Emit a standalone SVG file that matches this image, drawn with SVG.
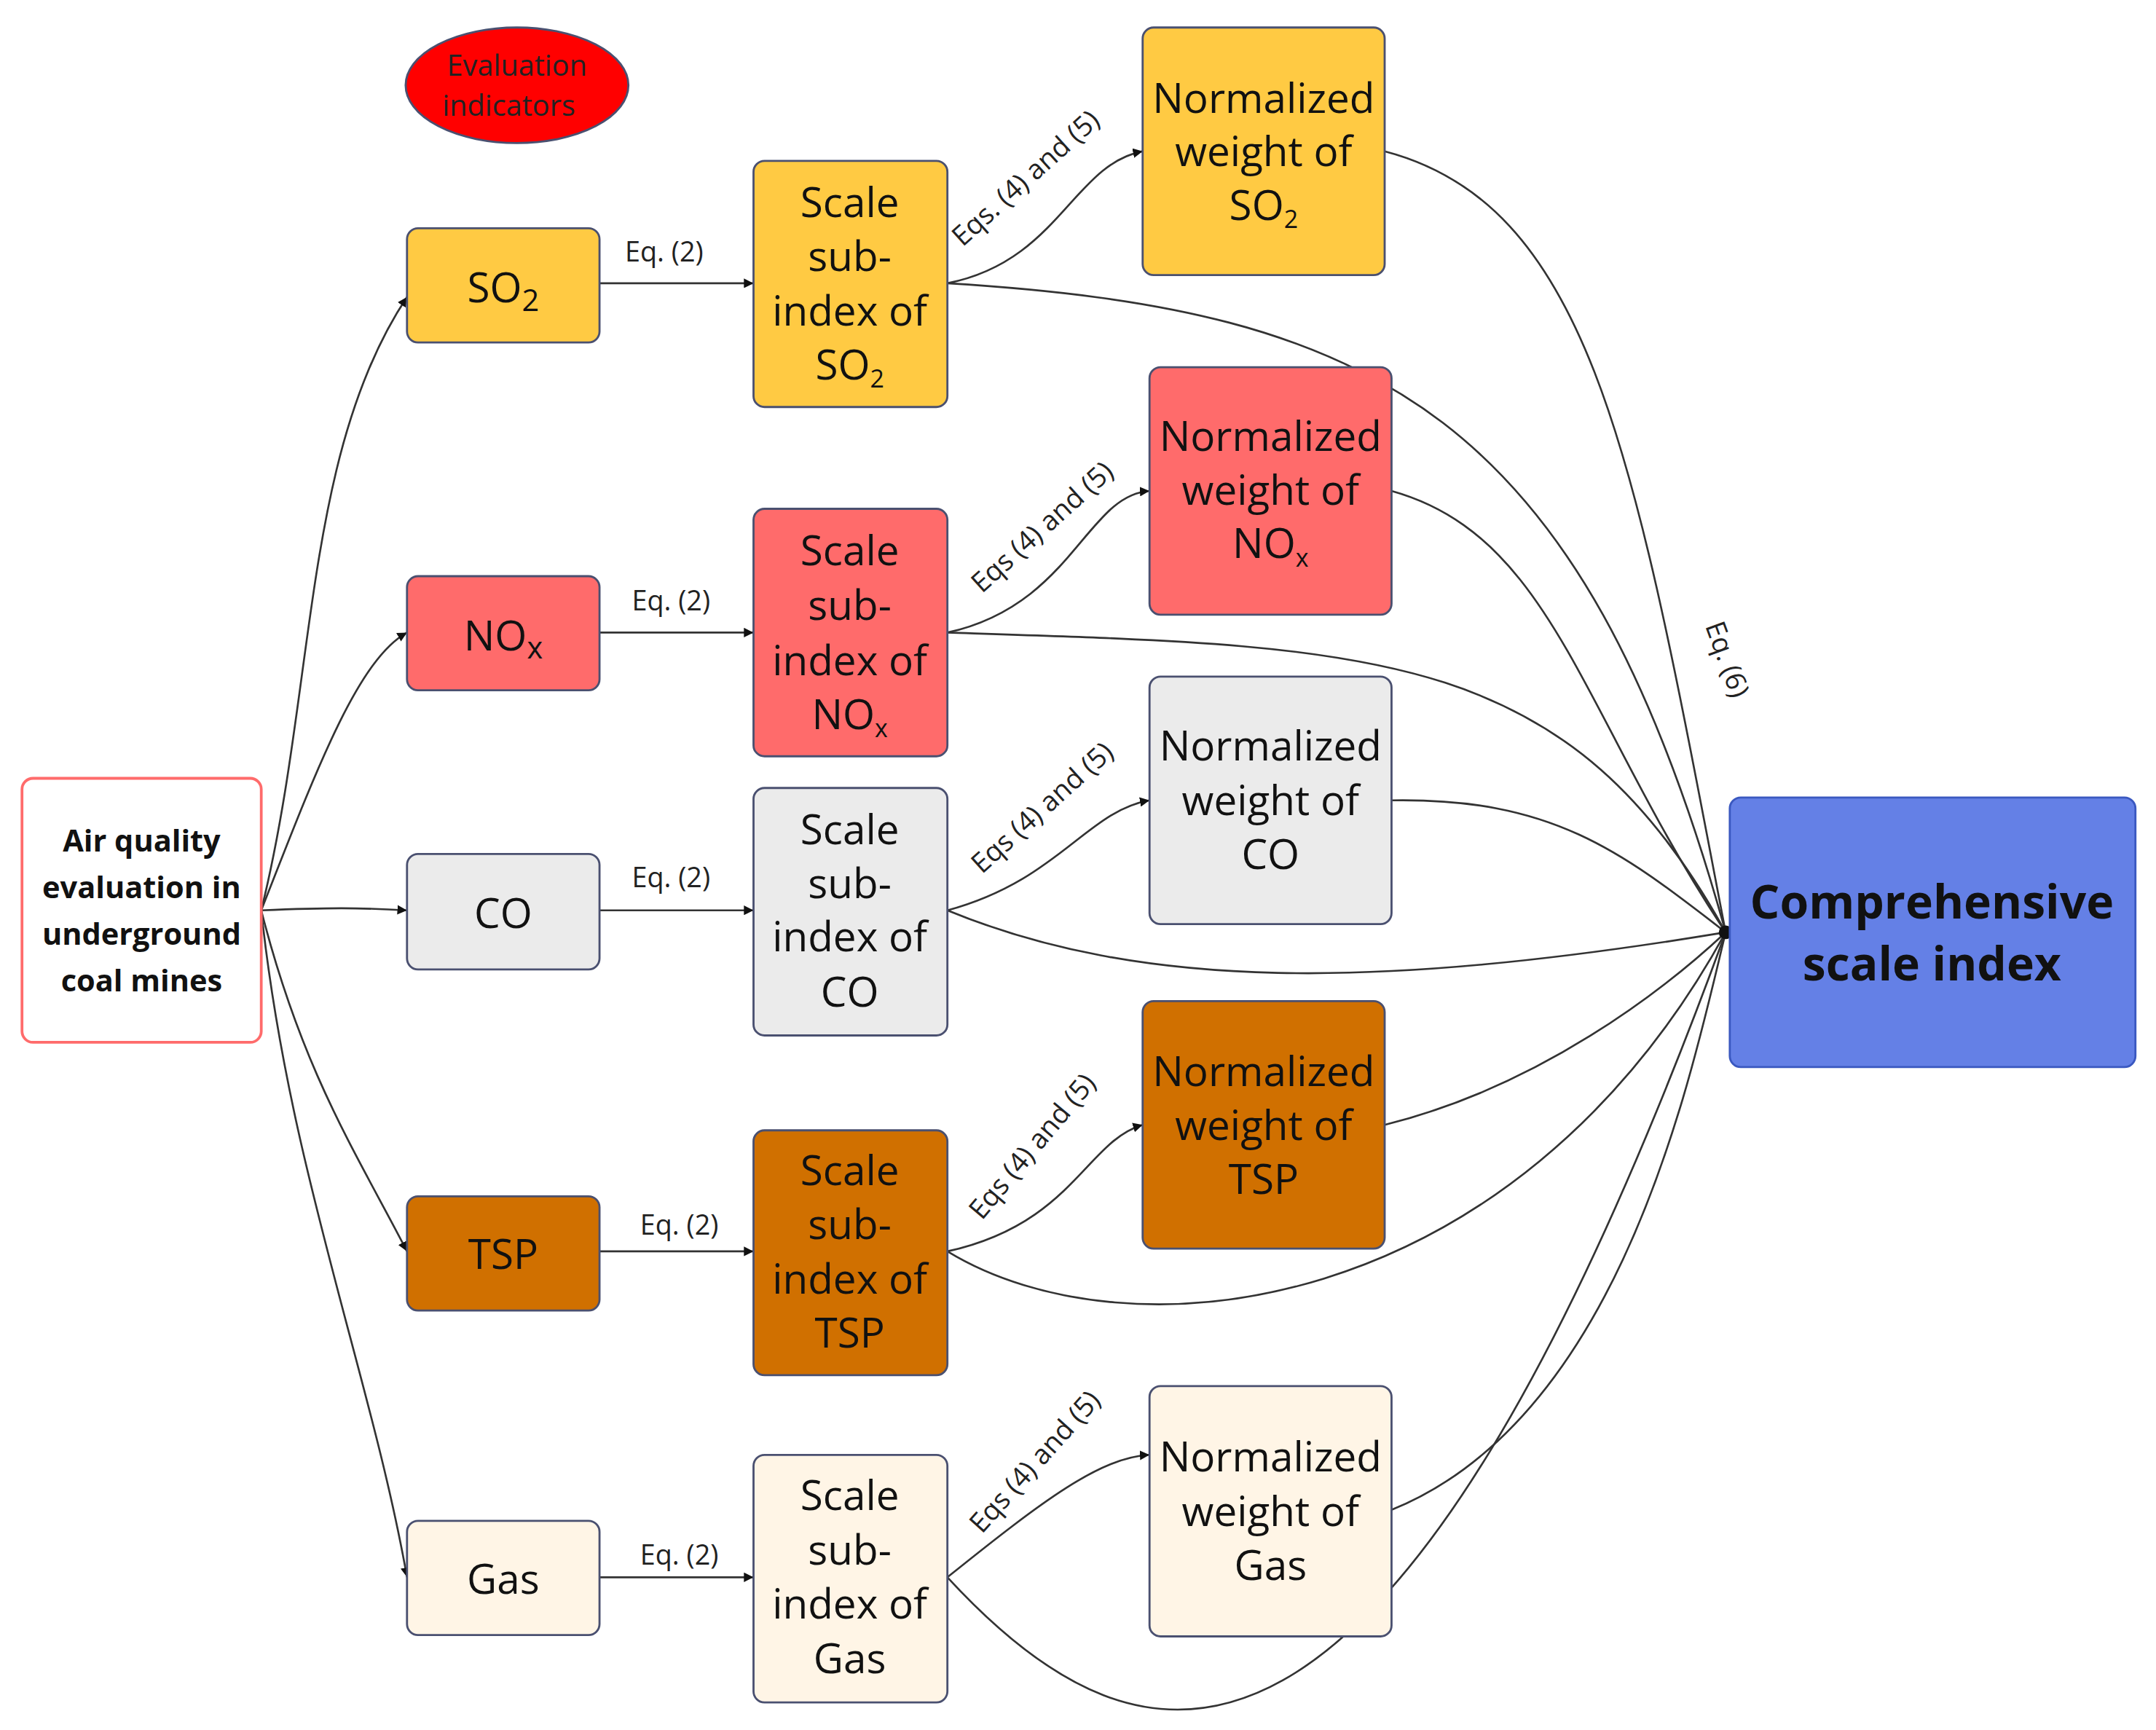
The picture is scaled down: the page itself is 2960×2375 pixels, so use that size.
<svg xmlns="http://www.w3.org/2000/svg" width="2960" height="2375" viewBox="0 0 2960 2375">
<style>
.b{stroke:#4a5070;stroke-width:1.5}
.t{font-family:"Open Sans","Liberation Sans",sans-serif;font-size:30px;fill:#111;text-anchor:middle}
.s{font-family:"Open Sans","Liberation Sans",sans-serif;font-size:20px;fill:#222}
.c{fill:none;stroke:#333;stroke-width:1.4}
</style>
<defs><marker id="a" viewBox="0 0 10 10" refX="10" refY="5" markerWidth="7" markerHeight="7" orient="auto" markerUnits="userSpaceOnUse"><path d="M0,0L10,5L0,10z" fill="#111"/></marker></defs>
<rect width="2960" height="2375" fill="#fff"/>
<g transform="scale(1.8878)">
<g id="connectors">
<path class="c" marker-end="url(#a)" d="M190,662 C230,500 220,330 296,216"/>
<path class="c" marker-end="url(#a)" d="M190,662 C230,560 260,480 296,460"/>
<path class="c" marker-end="url(#a)" d="M190,662 C240,660 260,660 296,662"/>
<path class="c" marker-end="url(#a)" d="M190,662 C220,780 260,840 296,910"/>
<path class="c" marker-end="url(#a)" d="M190,662 C210,850 270,1000 296,1147"/>
<path class="c" marker-end="url(#a)" d="M436,206H548"/>
<path class="c" marker-end="url(#a)" d="M436,460H548"/>
<path class="c" marker-end="url(#a)" d="M436,662H548"/>
<path class="c" marker-end="url(#a)" d="M436,910H548"/>
<path class="c" marker-end="url(#a)" d="M436,1147H548"/>
<path class="c" marker-end="url(#a)" d="M689,206 C770,190 780,120 831,110"/>
<path class="c" marker-end="url(#a)" d="M689,460 C780,440 790,360 836,357"/>
<path class="c" marker-end="url(#a)" d="M689,662 C770,640 790,590 836,582"/>
<path class="c" marker-end="url(#a)" d="M689,910 C780,890 790,830 831,818"/>
<path class="c" marker-end="url(#a)" d="M689,1147 C760,1090 800,1060 836,1058"/>
<path class="c" d="M1007,110 C1160,150 1190,340 1255,678"/>
<path class="c" d="M689,206 C1000,225 1150,300 1255,678"/>
<path class="c" d="M1012,357 C1130,390 1150,520 1255,678"/>
<path class="c" d="M689,460 C1000,470 1140,470 1255,678"/>
<path class="c" d="M1012,582 C1130,580 1180,620 1255,678"/>
<path class="c" d="M689,662 C830,720 1000,720 1255,678"/>
<path class="c" d="M1007,818 C1120,790 1210,720 1255,678"/>
<path class="c" d="M689,910 C820,990 1100,960 1255,678"/>
<path class="c" d="M1012,1098 C1180,1030 1230,780 1255,678"/>
<path class="c" d="M689,1147 C830,1300 1010,1350 1255,678"/>
<circle cx="1255" cy="678" r="5" fill="#111"/>
<text class="s" x="483" y="190" text-anchor="middle">Eq. (2)</text>
<text class="s" x="488" y="444" text-anchor="middle">Eq. (2)</text>
<text class="s" x="488" y="645" text-anchor="middle">Eq. (2)</text>
<text class="s" x="494" y="898" text-anchor="middle">Eq. (2)</text>
<text class="s" x="494" y="1138" text-anchor="middle">Eq. (2)</text>
<text class="s" transform="translate(700,180) rotate(-42)">Eqs. (4) and (5)</text>
<text class="s" transform="translate(714,432) rotate(-42)">Eqs (4) and (5)</text>
<text class="s" transform="translate(714,636) rotate(-42)">Eqs (4) and (5)</text>
<text class="s" transform="translate(714,888) rotate(-50)">Eqs (4) and (5)</text>
<text class="s" transform="translate(714,1116) rotate(-48)">Eqs (4) and (5)</text>
<text class="s" transform="translate(1240,455) rotate(70)">Eq. (6)</text>
</g>
<g id="eval"><ellipse cx="376" cy="62" rx="81" ry="42" fill="#ff0000" stroke="#4a5070" stroke-width="1.5"/>
<text class="s" x="376" y="55" text-anchor="middle" style="font-size:21px">Evaluation</text><text class="s" x="370" y="84" text-anchor="middle" style="font-size:21px">indicators</text></g>
<g id="air"><rect x="16" y="566" width="174" height="192" rx="8" fill="#fff" stroke="#ff6b6b" stroke-width="2"/>
<text class="t" style="font-size:22px;font-weight:bold" x="103" y="619">Air quality</text><text class="t" style="font-size:22px;font-weight:bold" x="103" y="653">evaluation in</text><text class="t" style="font-size:22px;font-weight:bold" x="103" y="687">underground</text><text class="t" style="font-size:22px;font-weight:bold" x="103" y="721">coal mines</text></g>
<g id="so2"><rect class="b" x="296" y="166" width="140" height="83" rx="8" fill="#ffca43"/><text class="t" x="366" y="220">SO<tspan font-size="22" dy="6">2</tspan></text></g>
<g id="nox"><rect class="b" x="296" y="419" width="140" height="83" rx="8" fill="#ff6b6b"/><text class="t" x="366" y="473">NO<tspan font-size="22" dy="6">x</tspan></text></g>
<g id="co"><rect class="b" x="296" y="621" width="140" height="84" rx="8" fill="#ebebeb"/><text class="t" x="366" y="675">CO</text></g>
<g id="tsp"><rect class="b" x="296" y="870" width="140" height="83" rx="8" fill="#d07000"/><text class="t" x="366" y="923">TSP</text></g>
<g id="gas"><rect class="b" x="296" y="1106" width="140" height="83" rx="8" fill="#fff5e6"/><text class="t" x="366" y="1159">Gas</text></g>
<g id="sso2"><rect class="b" x="548" y="117" width="141" height="179" rx="8" fill="#ffca43"/><text class="t" x="618" y="158">Scale</text><text class="t" x="618" y="197">sub-</text><text class="t" x="618" y="237">index of</text><text class="t" x="618" y="276">SO<tspan font-size="18" dy="6">2</tspan></text></g>
<g id="snox"><rect class="b" x="548" y="370" width="141" height="180" rx="8" fill="#ff6b6b"/><text class="t" x="618" y="411">Scale</text><text class="t" x="618" y="451">sub-</text><text class="t" x="618" y="491">index of</text><text class="t" x="618" y="530">NO<tspan font-size="18" dy="6">x</tspan></text></g>
<g id="sco"><rect class="b" x="548" y="573" width="141" height="180" rx="8" fill="#ebebeb"/><text class="t" x="618" y="614">Scale</text><text class="t" x="618" y="653">sub-</text><text class="t" x="618" y="692">index of</text><text class="t" x="618" y="732">CO</text></g>
<g id="stsp"><rect class="b" x="548" y="822" width="141" height="178" rx="8" fill="#d07000"/><text class="t" x="618" y="862">Scale</text><text class="t" x="618" y="901">sub-</text><text class="t" x="618" y="941">index of</text><text class="t" x="618" y="980">TSP</text></g>
<g id="sgas"><rect class="b" x="548" y="1058" width="141" height="180" rx="8" fill="#fff5e6"/><text class="t" x="618" y="1098">Scale</text><text class="t" x="618" y="1138">sub-</text><text class="t" x="618" y="1177">index of</text><text class="t" x="618" y="1217">Gas</text></g>
<g id="nso2"><rect class="b" x="831" y="20" width="176" height="180" rx="8" fill="#ffca43"/><text class="t" x="919" y="82">Normalized</text><text class="t" x="919" y="121">weight of</text><text class="t" x="919" y="160">SO<tspan font-size="18" dy="6">2</tspan></text></g>
<g id="nnox"><rect class="b" x="836" y="267" width="176" height="180" rx="8" fill="#ff6b6b"/><text class="t" x="924" y="328">Normalized</text><text class="t" x="924" y="367">weight of</text><text class="t" x="924" y="406">NO<tspan font-size="18" dy="6">x</tspan></text></g>
<g id="nco"><rect class="b" x="836" y="492" width="176" height="180" rx="8" fill="#ebebeb"/><text class="t" x="924" y="553">Normalized</text><text class="t" x="924" y="593">weight of</text><text class="t" x="924" y="632">CO</text></g>
<g id="ntsp"><rect class="b" x="831" y="728" width="176" height="180" rx="8" fill="#d07000"/><text class="t" x="919" y="790">Normalized</text><text class="t" x="919" y="829">weight of</text><text class="t" x="919" y="868">TSP</text></g>
<g id="ngas"><rect class="b" x="836" y="1008" width="176" height="182" rx="8" fill="#fff5e6"/><text class="t" x="924" y="1070">Normalized</text><text class="t" x="924" y="1110">weight of</text><text class="t" x="924" y="1149">Gas</text></g>
<g id="comp"><rect x="1258" y="580" width="295" height="196" rx="8" fill="#6480e6" stroke="#3a58c0" stroke-width="1.5"/><text class="t" style="font-size:34px;font-weight:bold" x="1405" y="668">Comprehensive</text><text class="t" style="font-size:34px;font-weight:bold" x="1405" y="713">scale index</text></g>
</g>
</svg>
